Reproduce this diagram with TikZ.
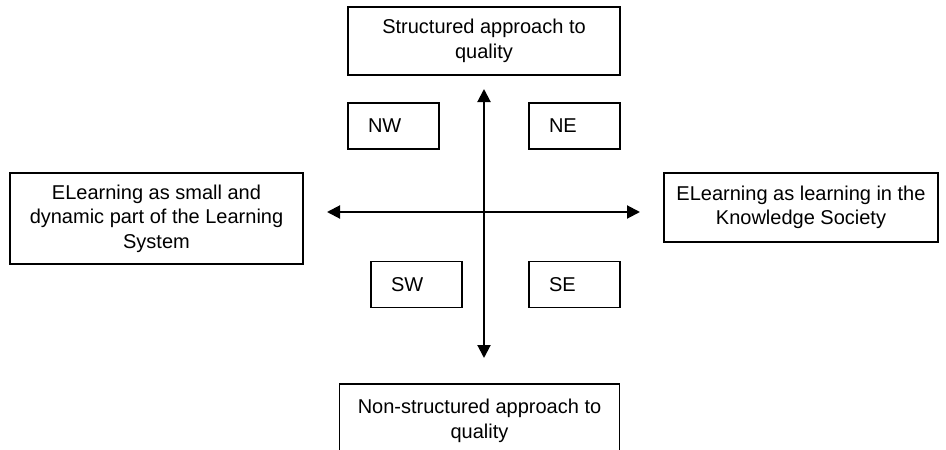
\documentclass[tikz,border=0pt]{standalone}
\usepackage{fontspec}
\setmainfont{Liberation Sans}
\usetikzlibrary{arrows.meta}
\tikzset{
  polo/.style     = {rectangle, draw, line width=1.5pt, align=center, inner sep=0pt, font=\fontsize{20}{24.5}\selectfont},
  quadrante/.style = {rectangle, draw, line width=1.5pt, minimum height=46pt, text width=51pt, inner xsep=20pt, inner ysep=0pt, align=left, font=\fontsize{20}{24}\selectfont},
  asse/.style     = {line width=2pt, {Triangle[length=13pt,width=13pt]}-{Triangle[length=13pt,width=13pt]}}
}

\begin{document}
\begin{tikzpicture}[x=1pt,y=1pt]

  \clip (0,0) rectangle (946,-450);

  % poli
  \node[polo, minimum width=272pt, minimum height=68pt] (su) at (484,-41)      {Structured approach to\\quality};
  \node[polo, minimum width=293pt, minimum height=91pt] (ov) at (156.5,-218.5) {ELearning as small and\\dynamic part of the Learning\\System};
  \node[polo, minimum width=274pt, minimum height=69pt] (es) at (801,-207.5)   {ELearning as learning in the\\Knowledge Society};
  \node[polo, minimum width=280pt, minimum height=74pt] (gi) at (479.5,-421)   {Non-structured approach to\\quality};

  % quadranti
  \node[quadrante] (nw) at (393.5,-126)   {NW};
  \node[quadrante] (ne) at (574.5,-126)   {NE};
  \node[quadrante] (sw) at (416.5,-284.5) {SW};
  \node[quadrante] (se) at (574.5,-284.5) {SE};

  % assi
  \coordinate (nord)  at (484,-89);
  \coordinate (sud)   at (484,-358);
  \coordinate (ovest) at (327,-212);
  \coordinate (est)   at (640,-212);
  \draw[asse] (sud) -- (nord);
  \draw[asse] (ovest) -- (est);

\end{tikzpicture}
\end{document}
